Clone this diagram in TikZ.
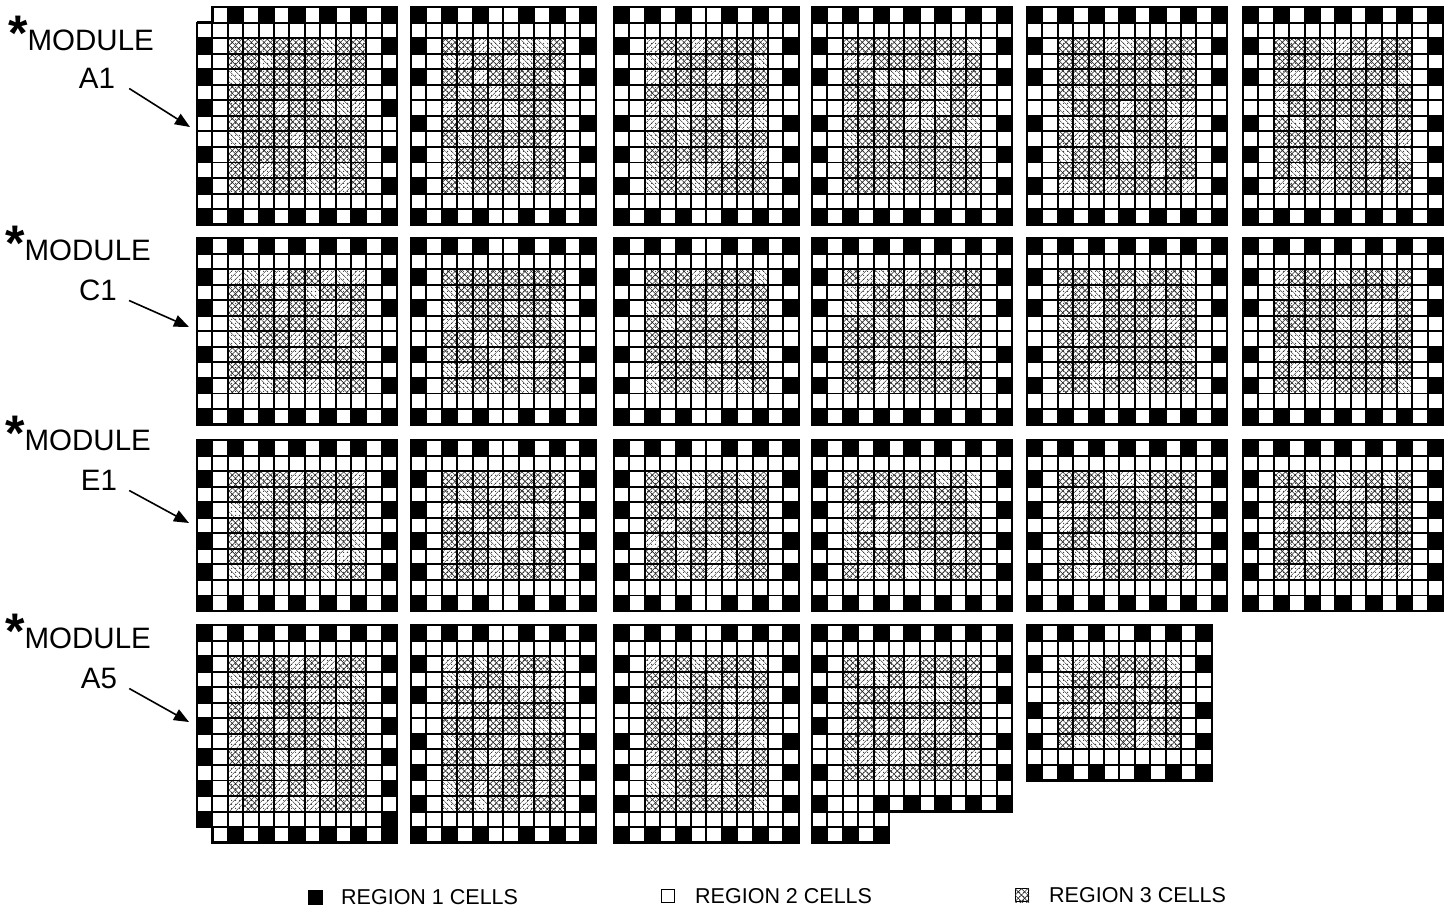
\documentclass[tikz,border=0pt]{standalone}
\usepackage{fontspec}
\setmainfont{Liberation Sans}
\usetikzlibrary{patterns.meta,arrows.meta}
\def\cw{15.4}
\def\ch{15.55}
\tikzset{
  gridline/.style={line width=1.9pt,black},
  outline/.style={line width=2.5pt,black,line join=miter},
  dotpat/.style={pattern={Dots[radius=0.6pt,distance=4pt]},pattern color=black},
  hatchx/.style={pattern={Hatch[angle=45,distance=4.5pt,line width=0.6pt]},pattern color=black!85},
  hatchne/.style={pattern={Lines[angle=45,distance=4pt,line width=0.6pt]},pattern color=black!85},
  hatchnw/.style={pattern={Lines[angle=-45,distance=4pt,line width=0.6pt]},pattern color=black!85},
  modlabel/.style={font=\fontsize{29.5}{29.5}\selectfont,inner sep=0pt},
  legtext/.style={font=\fontsize{21.5}{21.5}\selectfont,inner sep=0pt,anchor=west},
  pointer/.style={line width=1.6pt,-{Triangle[length=15pt,width=12pt]}},
}
\newcommand\blackcell[2]{\fill[black] ({(#1-1)*\cw},{(#2-1)*\ch}) rectangle ({#1*\cw},{#2*\ch});}
\newcommand\hatchcell[2]{%
  \pgfmathtruncatemacro\rr{random(1,6)}%
  \path[dotpat] ({(#1-1)*\cw},{(#2-1)*\ch}) rectangle ({#1*\cw},{#2*\ch});%
  \ifcase\rr\or
    \path[hatchx] ({(#1-1)*\cw},{(#2-1)*\ch}) rectangle ({#1*\cw},{#2*\ch});\or
    \path[hatchx] ({(#1-1)*\cw},{(#2-1)*\ch}) rectangle ({#1*\cw},{#2*\ch});\or
    \path[hatchx] ({(#1-1)*\cw},{(#2-1)*\ch}) rectangle ({#1*\cw},{#2*\ch});\or
    \path[hatchx] ({(#1-1)*\cw},{(#2-1)*\ch}) rectangle ({#1*\cw},{#2*\ch});\or
    \path[hatchne] ({(#1-1)*\cw},{(#2-1)*\ch}) rectangle ({#1*\cw},{#2*\ch});\or
    \path[hatchnw] ({(#1-1)*\cw},{(#2-1)*\ch}) rectangle ({#1*\cw},{#2*\ch});\fi}
% #1 name, #2 x, #3 y, #4 columns, #5 rows, #6 double-white index (columns), #7 double-white index (rows)
\newcommand\gridmod[7]{%
\begin{scope}[shift={(#2,#3)}]
  \coordinate (#1) at (0,0);
  \pgfmathtruncatemacro\cA{#4-2}%
  \pgfmathtruncatemacro\rA{#5-2}%
  \pgfmathtruncatemacro\cB{#4-1}%
  \pgfmathtruncatemacro\rB{#5-1}%
  \foreach \i in {3,...,\cA}{\foreach \j in {3,...,\rA}{\hatchcell{\i}{\j}}}%
  \foreach \i in {1,...,#4}{%
    \pgfmathtruncatemacro\bk{ifthenelse(\i<=#6,mod(\i,2)==1,mod(\i-#6,2)==0)}%
    \ifnum\bk=1 \blackcell{\i}{1}\blackcell{\i}{#5}\fi}%
  \foreach \j in {2,...,\rB}{%
    \pgfmathtruncatemacro\bk{ifthenelse(\j<=#7,mod(\j,2)==1,mod(\j-#7,2)==0)}%
    \ifnum\bk=1 \blackcell{1}{\j}\blackcell{#4}{\j}\fi}%
  \foreach \i in {1,...,\cB}{\draw[gridline] ({\i*\cw},0) -- ({\i*\cw},{#5*\ch});}%
  \foreach \j in {1,...,\rB}{\draw[gridline] (0,{\j*\ch}) -- ({#4*\cw},{\j*\ch});}%
  \draw[outline] (0,0) rectangle ({#4*\cw},{#5*\ch});
\end{scope}}
\begin{document}
\begin{tikzpicture}[x=1pt,y=-1pt]
\pgfmathsetseed{7}
\fill[white] (0,0) rectangle (1445,911);
\useasboundingbox (0,0) rectangle (1445,911);

% row 1
\gridmod{gA1}{197}{7}{13}{14}{13}{8}
\begin{scope}[shift={(197,7)}]
  \fill[white] (-3,-3) rectangle ({\cw-0.95},{\ch-0.95});
  \draw[outline] (0,\ch) -- (\cw,\ch) -- (\cw,0);
\end{scope}
\gridmod{gA2}{411}{7}{12}{14}{6}{6}
\gridmod{gA3}{614}{7}{12}{14}{6}{6}
\gridmod{gA4}{812}{7}{13}{14}{13}{6}
\gridmod{gA5}{1027}{7}{13}{14}{13}{6}
\gridmod{gA6}{1243}{7}{13}{14}{13}{6}
% row 2
\gridmod{gB1}{197}{238}{13}{12}{13}{6}
\gridmod{gB2}{411}{238}{12}{12}{6}{6}
\gridmod{gB3}{614}{238}{12}{12}{6}{6}
\gridmod{gB4}{812}{238}{13}{12}{13}{6}
\gridmod{gB5}{1027}{238}{13}{12}{13}{6}
\gridmod{gB6}{1243}{238}{13}{12}{13}{6}
% row 3
\gridmod{gC1}{197}{440}{13}{11}{13}{11}
\gridmod{gC2}{411}{440}{12}{11}{6}{11}
\gridmod{gC3}{614}{440}{12}{11}{6}{11}
\gridmod{gC4}{812}{440}{13}{11}{13}{11}
\gridmod{gC5}{1027}{440}{13}{11}{13}{11}
\gridmod{gC6}{1243}{440}{13}{11}{13}{11}
% row 4
\gridmod{gD1}{197}{625}{13}{14}{13}{14}
\begin{scope}[shift={(197,625)}]
  \fill[white] (-3,{13*\ch+0.95}) rectangle ({\cw-0.95},{14*\ch+3});
  \draw[outline] (0,{13*\ch}) -- (\cw,{13*\ch}) -- (\cw,{14*\ch});
\end{scope}
\gridmod{gD2}{411}{625}{12}{14}{6}{6}
\gridmod{gD3}{614}{625}{12}{14}{6}{6}
\begin{scope}[shift={(812,625)}]
  \coordinate (gD4) at (0,0);
  \foreach \i in {3,...,11}{\foreach \j in {3,...,10}{\hatchcell{\i}{\j}}}
  \foreach \i in {1,3,...,13}{\blackcell{\i}{1}}
  \foreach \j in {3,5,7,10,12,14}{\blackcell{1}{\j}}
  \foreach \j in {3,5,8,10,12}{\blackcell{13}{\j}}
  \foreach \i in {5,7,9,11}{\blackcell{\i}{12}}
  \foreach \i in {3,5}{\blackcell{\i}{14}}
  \foreach \i in {1,...,12}{\draw[gridline] ({\i*\cw},0) -- ({\i*\cw},{12*\ch});}
  \foreach \i in {1,...,4}{\draw[gridline] ({\i*\cw},{12*\ch}) -- ({\i*\cw},{14*\ch});}
  \foreach \j in {1,...,11}{\draw[gridline] (0,{\j*\ch}) -- ({13*\cw},{\j*\ch});}
  \foreach \j in {12,13}{\draw[gridline] (0,{\j*\ch}) -- ({5*\cw},{\j*\ch});}
  \draw[outline] (0,0) -- ({13*\cw},0) -- ({13*\cw},{12*\ch}) -- ({5*\cw},{12*\ch}) -- ({5*\cw},{14*\ch}) -- (0,{14*\ch}) -- cycle;
\end{scope}
\gridmod{gD5}{1027}{625}{12}{10}{6}{4}

% labels
\node[modlabel,anchor=base west] (hA1) at (8,50.5) {{\fontsize{50}{50}\selectfont\bfseries *}MODULE};
\node[modlabel,anchor=base] (nA1) at (97,88.5) {A1};
\coordinate (tA1) at (190,127);
\draw[pointer] ([xshift=14pt]nA1.base east) -- (tA1);

\node[modlabel,anchor=base west] (hC1) at (5,260.5) {{\fontsize{50}{50}\selectfont\bfseries *}MODULE};
\node[modlabel,anchor=base] (nC1) at (98,300.5) {C1};
\coordinate (tC1) at (189,327);
\draw[pointer] ([xshift=12pt]nC1.base east) -- (tC1);

\node[modlabel,anchor=base west] (hE1) at (5,450.5) {{\fontsize{50}{50}\selectfont\bfseries *}MODULE};
\node[modlabel,anchor=base] (nE1) at (99,490.5) {E1};
\coordinate (tE1) at (189,523);
\draw[pointer] ([xshift=12pt]nE1.base east) -- (tE1);

\node[modlabel,anchor=base west] (hA5) at (5,648.5) {{\fontsize{50}{50}\selectfont\bfseries *}MODULE};
\node[modlabel,anchor=base] (nA5) at (99,688.5) {A5};
\coordinate (tA5) at (189,722);
\draw[pointer] ([xshift=12pt]nA5.base east) -- (tA5);

% legend
\node[fill=black,draw=black,minimum size=14pt,inner sep=0pt] (k1) at (315,897) {};
\node[legtext] (l1) at (341,897) {REGION 1 CELLS};
\node[fill=white,draw=black,line width=1pt,minimum size=13pt,inner sep=0pt] (k2) at (668,896) {};
\node[legtext] (l2) at (695,896) {REGION 2 CELLS};
\node[dotpat,draw=black,line width=1pt,minimum size=13pt,inner sep=0pt] (k3) at (1022,895) {};
\path[hatchx] (k3.south west) rectangle (k3.north east);
\node[legtext] (l3) at (1049,895) {REGION 3 CELLS};
\end{tikzpicture}
\end{document}
